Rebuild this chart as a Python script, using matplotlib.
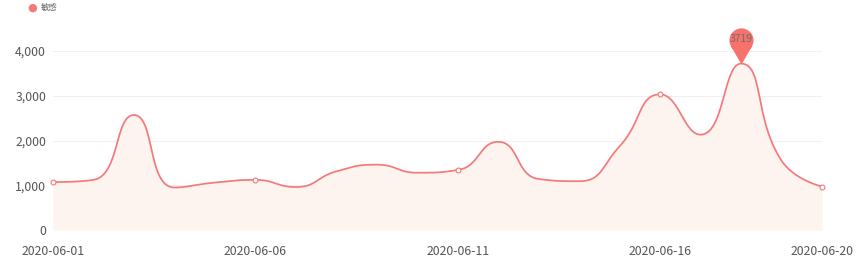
#!/usr/bin/env python3
import numpy as np
import matplotlib
matplotlib.use('Agg')
import matplotlib.pyplot as plt
from matplotlib.path import Path

plt.rcParams['font.family'] = ['Noto Sans CJK SC', 'DejaVu Sans']

dates = ['2020-06-%02d' % d for d in range(1, 21)]
values = [1070, 1120, 2570, 950, 1060, 1120, 960, 1310, 1460, 1280,
          1340, 1970, 1140, 1090, 1870, 3030, 2130, 3719, 1550, 970]
shown = [0, 5, 10, 15, 19]
peak_label = '3719'
series_name = '敏感'

line_col = '#F4797A'
fill_col = '#FDF3EF'


def clamp(v, a, b):
    return min(max(v, min(a, b)), max(a, b))


def smooth_curve(x, y, smooth=0.5, sx=40.5, sy=-0.04475, n=30):
    # bezier smoothing in the style of echarts 5, done in pixel units
    px = np.asarray(x, float) * sx
    py = np.asarray(y, float) * sy
    m = len(px)
    cps = []  # (cp_out of point i, cp_in of point i+1)
    cx0, cy0 = px[0], py[0]
    for i in range(m - 1):
        x0, y0 = px[i], py[i]
        nx, ny = px[i + 1], py[i + 1]
        if i + 1 == m - 1:
            cps.append(((cx0, cy0), (nx, ny)))
            break
        nnx, nny = px[i + 2], py[i + 2]
        vx = (nnx - x0) * smooth
        vy = (nny - y0) * smooth
        l0 = np.hypot(nx - x0, ny - y0)
        l1 = np.hypot(nnx - nx, nny - ny)
        r = l1 / (l0 + l1)
        ncx = clamp(nx + vx * r, nx, nnx)
        ncy = clamp(ny + vy * r, ny, nny)
        vx, vy = ncx - nx, ncy - ny
        c1x = clamp(nx - vx * l0 / l1, x0, nx)
        c1y = clamp(ny - vy * l0 / l1, y0, ny)
        vx, vy = nx - c1x, ny - c1y
        ncx = nx + vx * l1 / l0
        ncy = ny + vy * l1 / l0
        cps.append(((cx0, cy0), (c1x, c1y)))
        cx0, cy0 = ncx, ncy
    t = np.linspace(0, 1, n)
    xs, ys = [], []
    for i in range(m - 1):
        p0 = np.array([px[i], py[i]])
        p1 = np.array(cps[i][0])
        p2 = np.array(cps[i][1])
        p3 = np.array([px[i + 1], py[i + 1]])
        b = ((1 - t) ** 3)[:, None] * p0 + (3 * (1 - t) ** 2 * t)[:, None] * p1 \
            + (3 * (1 - t) * t ** 2)[:, None] * p2 + (t ** 3)[:, None] * p3
        xs.extend(b[:, 0])
        ys.extend(b[:, 1])
    return np.array(xs) / sx, np.array(ys) / sy


x = np.arange(len(values))
cx, cy = smooth_curve(x, values)

fig = plt.figure(figsize=(8.64, 2.7), dpi=100)
ax = fig.add_axes([53 / 864, 1 - 230 / 270, (822 - 53) / 864, (230 - 51) / 270])

ax.fill_between(cx, cy, 0, color=fill_col, lw=0, zorder=1)
ax.plot(cx, cy, color=line_col, lw=1.25, zorder=3, solid_capstyle='round')
ax.plot(x[shown], np.array(values)[shown], 'o', ms=3.5, mfc='white',
        mec=line_col, mew=0.8, zorder=4, clip_on=False)

# pin marker on the max value (circle + tangent triangle, same winding)
pin = Path.make_compound_path(
    Path.circle((0, 2), 1),
    Path([(-0.866, 1.5), (0, 0), (0.866, 1.5), (-0.866, 1.5)],
         [Path.MOVETO, Path.LINETO, Path.LINETO, Path.CLOSEPOLY]))
imax = int(np.argmax(values))
ax.plot([x[imax]], [values[imax]], marker=pin, ms=52, color='#F6726C',
        mew=0, ls='none', zorder=5, clip_on=False)
ax.annotate(peak_label, (x[imax], values[imax]), xytext=(0, 17.5),
            textcoords='offset points', ha='center', va='center',
            fontsize=7.5, color='#7a6a6a', zorder=6, annotation_clip=False)

ax.set_xlim(0, len(values) - 1)
ax.set_ylim(0, 4000)
ax.set_yticks([0, 1000, 2000, 3000, 4000])
ax.set_yticklabels(['0', '1,000', '2,000', '3,000', '4,000'])
ax.set_xticks(x[shown])
ax.set_xticklabels([dates[i] for i in shown])
ax.grid(axis='y', color='#f0f0f0', lw=0.8, zorder=0)
ax.set_axisbelow(True)
for s in ax.spines.values():
    s.set_visible(False)
ax.tick_params(axis='both', length=0, labelsize=8.8, colors='#555555')
ax.tick_params(axis='x', pad=11)
ax.tick_params(axis='y', pad=5)

# legend
fig.text(32 / 864, 1 - 7.5 / 270, '●', color=line_col, fontsize=8,
         ha='center', va='center', family=['DejaVu Sans'])
fig.text(41 / 864, 1 - 7.5 / 270, series_name, color='#666666', fontsize=6,
         ha='left', va='center')

fig.savefig('out.png', dpi=100)
